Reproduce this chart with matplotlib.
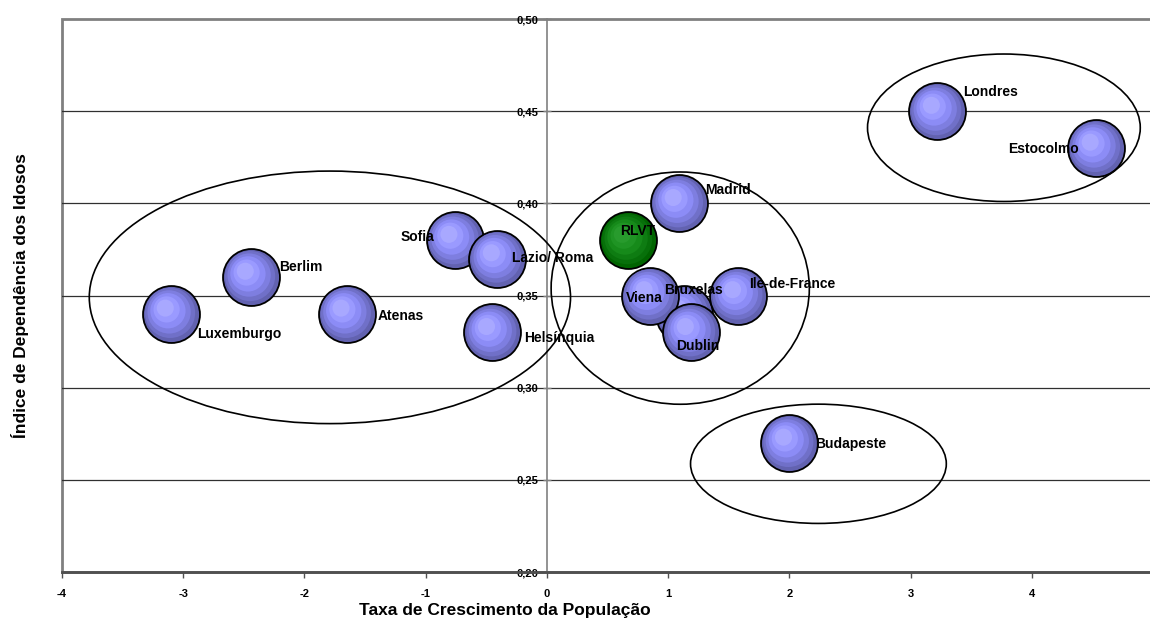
import numpy as np
import matplotlib
matplotlib.use("Agg")
import matplotlib.pyplot as plt
import matplotlib.transforms as mtransforms
from matplotlib.patches import Ellipse

plt.rcParams['font.family'] = ['Liberation Sans', 'DejaVu Sans']

# data
cities = ["Bruxelas", "Luxemburgo", "Berlim", "Atenas", "Sofia", "Lazio/ Roma",
          "Helsínquia", "Madrid", "Viena", "Ile-de-France", "Dublin",
          "Budapeste", "Londres", "Estocolmo", "RLVT"]
growth = [1.13, -3.10, -2.44, -1.65, -0.76, -0.41,
          -0.45, 1.09, 0.85, 1.58, 1.19,
          2.00, 3.22, 4.53, 0.67]
dependency = [0.34, 0.34, 0.36, 0.34, 0.38, 0.37,
              0.33, 0.40, 0.35, 0.35, 0.33,
              0.27, 0.45, 0.43, 0.38]

x_ticks = [-4, -3, -2, -1, 0, 1, 2, 3, 4]
y_ticks = [0.20, 0.25, 0.30, 0.35, 0.40, 0.45, 0.50]
y_tick_labels = ["0,20", "0,25", "0,30", "0,35", "0,40", "0,45", "0,50"]

# groups circled on the chart: centre x, centre y, width, height
groups_cx = [-1.79, 1.10, 3.77, 2.24]
groups_cy = [0.349, 0.354, 0.441, 0.2587]
groups_w = [3.97, 2.13, 2.25, 2.11]
groups_h = [0.137, 0.126, 0.080, 0.0647]

# label offsets in pixels (dx, dy with y down) and alignment
label_pos = {
    "Luxemburgo": (26, 20, "left"),
    "Berlim": (28, -10, "left"),
    "Atenas": (31, 2, "left"),
    "Sofia": (-20, -3, "right"),
    "Lazio/ Roma": (15, -1, "left"),
    "Helsínquia": (32, 6, "left"),
    "RLVT": (-8, -9, "left"),
    "Madrid": (26, -13, "left"),
    "Viena": (-24, 2, "left"),
    "Bruxelas": (-20, -24, "left"),
    "Ile-de-France": (11, -12, "left"),
    "Dublin": (-15, 14, "left"),
    "Budapeste": (26, 1, "left"),
    "Londres": (26, -19, "left"),
    "Estocolmo": (-88, 1, "left"),
}

fig = plt.figure(figsize=(11.5, 6.39), dpi=100)
ax = fig.add_axes([62 / 1150, 1 - 572 / 639, 1091 / 1150, 553 / 639])
ax.set_xlim(-4, 5)
ax.set_ylim(0.20, 0.50)

ax.patch.set_edgecolor('#808080')
ax.patch.set_linewidth(2)
for s in ['top', 'right']:
    ax.spines[s].set_visible(False)
ax.spines['left'].set_position(('data', 0))
ax.spines['left'].set_color('#808080')
ax.spines['left'].set_linewidth(1.2)
ax.spines['bottom'].set_color('#505050')
ax.spines['bottom'].set_linewidth(2)

ax.set_xticks(x_ticks)
ax.set_xticklabels([str(t) for t in x_ticks], fontsize=8, fontweight='bold')
ax.set_yticks(y_ticks)
ax.set_yticklabels(y_tick_labels, fontsize=8, fontweight='bold')
ax.tick_params(axis='x', direction='out', length=4, width=1, color='#505050', pad=8)
ax.tick_params(axis='y', direction='inout', length=6, width=1, color='#808080', pad=3)
for yv in y_ticks[1:-1]:
    ax.axhline(yv, color='#303030', linewidth=0.9, zorder=1)

fig.text(505 / 1150, 1 - 611 / 639, "Taxa de Crescimento da População",
         ha='center', va='center', fontsize=12.5, fontweight='bold')
fig.text(20 / 1150, 1 - 296 / 639, "Índice de Dependência dos Idosos",
         ha='center', va='center', rotation=90, fontsize=12.5, fontweight='bold')

# spheres: outer shell plus lighter rings shifted up-left
blue_rings = ['#6262b0', '#7070c8', '#7e7ee0', '#8c8cf6', '#9a9aff', '#a8a8ff']
green_rings = ['#006400', '#07700a', '#0e7c12', '#168a1a', '#1f9424', '#289b2d']
fracs = [1.0, 0.88, 0.76, 0.62, 0.46, 0.30]
size = 41.0  # marker diameter in points

for i, name in enumerate(cities):
    rings = green_rings if name == "RLVT" else blue_rings
    for k, f in enumerate(fracs):
        shift = (1 - f) * 6.0
        tr = ax.transData + mtransforms.ScaledTranslation(
            -shift / 72, shift / 72, fig.dpi_scale_trans)
        ax.scatter([growth[i]], [dependency[i]], s=(size * f) ** 2,
                   color=rings[k], edgecolors='black' if k == 0 else 'none',
                   linewidths=1.3 if k == 0 else 0, transform=tr,
                   zorder=3 + i * 0.05 + k * 0.001)

for cx, cy, w, h in zip(groups_cx, groups_cy, groups_w, groups_h):
    ax.add_patch(Ellipse((cx, cy), w, h, fill=False, edgecolor='black',
                         linewidth=1.2, zorder=5))

for i, name in enumerate(cities):
    dx, dy, ha = label_pos[name]
    ax.annotate(name, (growth[i], dependency[i]),
                xytext=(dx * 0.72, -dy * 0.72), textcoords='offset points',
                ha=ha, va='center', fontsize=10, fontweight='bold', zorder=6)

fig.savefig("out.png", dpi=100)
